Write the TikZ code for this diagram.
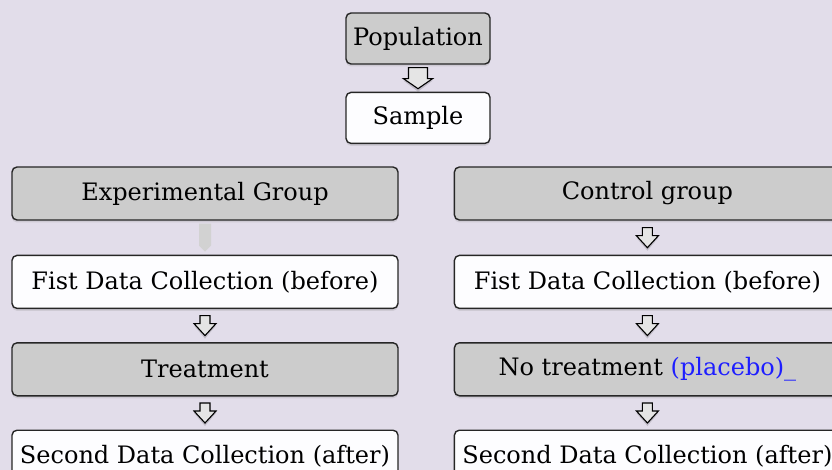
\documentclass[tikz,border=0pt]{standalone}
\usepackage{fontspec}
\setmainfont{DejaVu Serif}
\usepackage{tikz}
\usetikzlibrary{positioning, calc, shadows}
\definecolor{bg_lilac}{RGB}{226,221,234}
\definecolor{box_gray}{RGB}{204,204,204}
\definecolor{box_white}{RGB}{253,253,255}
\definecolor{placebo_blue}{RGB}{30,30,255}
\tikzset{
  stage/.style={rectangle,rounded corners=5pt,draw=black!85,line width=1.4pt,fill=box_gray,inner sep=0pt,
    minimum width=386pt,minimum height=53pt,font=\fontsize{24}{28}\selectfont,
    drop shadow={shadow xshift=0pt,shadow yshift=-2.5pt,opacity=.2}},
  stage_w/.style={stage,fill=box_white},
  topbox/.style={stage,minimum width=144pt,minimum height=51pt},
  topbox_w/.style={topbox,fill=box_white},
  flowline/.style={draw=black,line width=1.1pt,fill=gray!20,line join=miter},
  flowfaded/.style={draw=none,fill=gray!35},
  pics/downflow/.style n args={5}{code={
    % #1 half shaft, #2 half head, #3 top, #4 head start, #5 tip
    \fill[black,opacity=.15] (-#1,#3+2) -- (#1,#3+2) -- (#1,#4+2) -- (#2,#4+2) -- (0,#5+3) -- (-#2,#4+2) -- (-#1,#4+2) -- cycle;
    \path[pic actions] (-#1,#3) -- (#1,#3) -- (#1,#4) -- (#2,#4) -- (0,#5) -- (-#2,#4) -- (-#1,#4) -- cycle;
  }},
  pics/fadedflow/.style={code={
    \path[flowfaded] (-6,-14) -- (6,-14) -- (6,8) -- (0,14) -- (-6,8) -- cycle;
  }},
}

\begin{document}
\begin{tikzpicture}[x=1pt,y=-1pt]
	\useasboundingbox (0,0) rectangle (832,470);
	\clip (0,0) rectangle (832,470);
	\fill[bg_lilac] (0,0) rectangle (832,470);
	\node[topbox] (pop) at (418,38.5) {Population};
	\node[topbox_w,below=27pt of pop] (sam) {Sample};
	\node[stage] (exp) at (205,193.5) {Experimental Group};
	\node[stage,right=55pt of exp] (ctl) {Control group};
	\node[stage_w,below=34pt of exp] (pre_e) {Fist Data Collection (before)};
	\node[stage_w,below=34pt of ctl] (pre_c) {Fist Data Collection (before)};
	\node[stage,below=33pt of pre_e] (trt) {Treatment};
	\node[stage,below=33pt of pre_c] (notrt) {No treatment \textcolor{placebo_blue}{(placebo)\_}};
	\node[stage_w,below=33pt of trt] (post_e) {Second Data Collection (after)};
	\node[stage_w,below=33pt of notrt] (post_c) {Second Data Collection (after)};
	\pic[flowline] (a_pop) at ($(pop.south)!.5!(sam.north)$) {downflow={9.5}{14.5}{-10.5}{0.5}{10.5}};
	\pic (a_exp) at ($(exp.south)!.5!(pre_e.north)$) {fadedflow};
	\pic[flowline] (a_ctl) at ($(ctl.south)!.5!(pre_c.north)$) {downflow={5}{11}{-10}{-2}{10}};
	\pic[flowline] (a_pre_e) at ($(pre_e.south)!.5!(trt.north)$) {downflow={5}{11}{-10}{-2}{10}};
	\pic[flowline] (a_pre_c) at ($(pre_c.south)!.5!(notrt.north)$) {downflow={5}{11}{-10}{-2}{10}};
	\pic[flowline] (a_trt) at ($(trt.south)!.5!(post_e.north)$) {downflow={5}{11}{-10}{-2}{10}};
	\pic[flowline] (a_notrt) at ($(notrt.south)!.5!(post_c.north)$) {downflow={5}{11}{-10}{-2}{10}};
\end{tikzpicture}
\end{document}
